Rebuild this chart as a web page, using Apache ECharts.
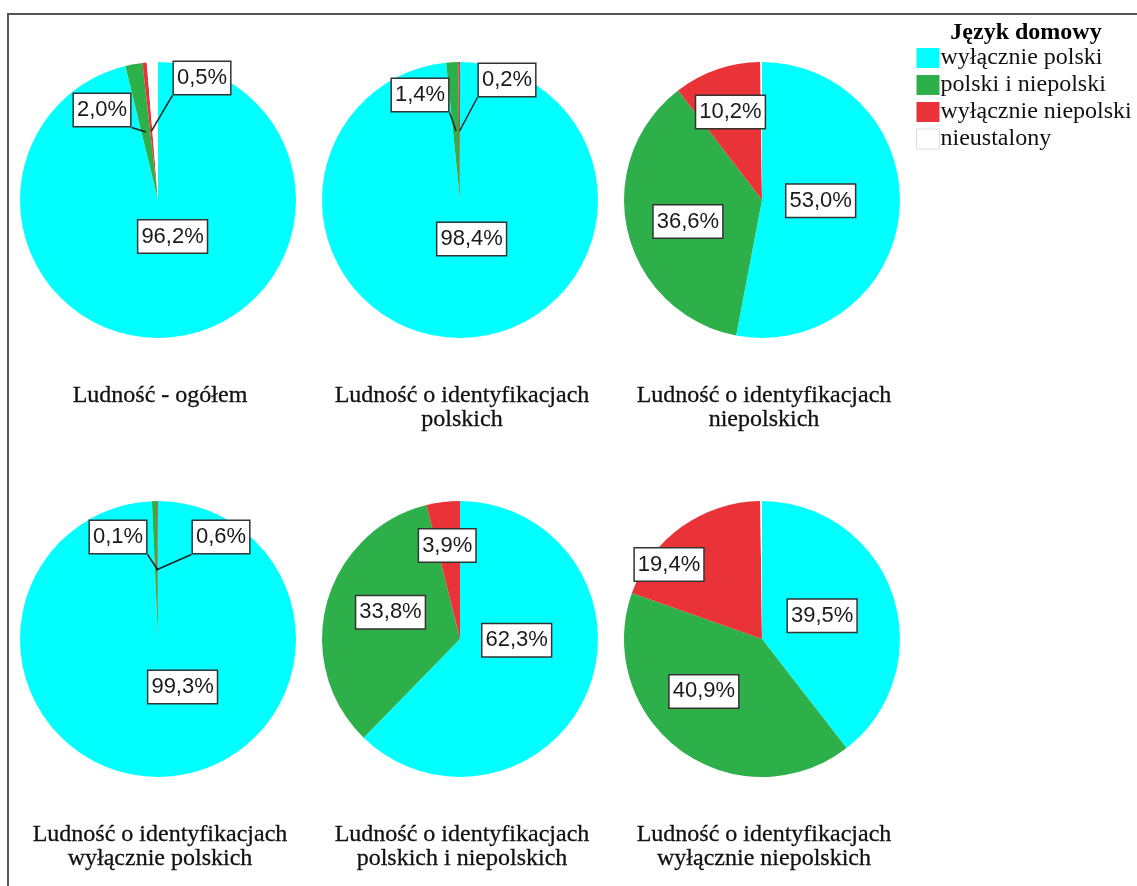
<!DOCTYPE html>
<html>
<head>
<meta charset="utf-8">
<script src="https://cdn.jsdelivr.net/npm/echarts@6/dist/echarts.min.js"></script>
<style>
  body { margin: 0; background: #fff; }
  #chart { position: absolute; left: 0; top: 0; width: 1137px; height: 886px; }
  #frame { position: absolute; left: 7px; top: 13px; right: 0; bottom: 0;
           border-left: 2px solid #555; border-top: 2px solid #555; pointer-events: none; }
</style>
</head>
<body>
<div id="chart"></div>
<div id="frame"></div>
<script>
// kategorie: język domowy
var categories = ['wyłącznie polski', 'polski i niepolski', 'wyłącznie niepolski', 'nieustalony'];
var colors = ['#00ffff', '#2db04a', '#ea3339', '#ffffff'];

// podpisy wykresów
var groups = [
    'Ludność - ogółem',
    'Ludność o identyfikacjach\npolskich',
    'Ludność o identyfikacjach\nniepolskich',
    'Ludność o identyfikacjach\nwyłącznie polskich',
    'Ludność o identyfikacjach\npolskich i niepolskich',
    'Ludność o identyfikacjach\nwyłącznie niepolskich'
];

// udziały (%) w kolejności kategorii
var ogolem        = [96.2, 2.0, 0.5, 1.3];
var polskie       = [98.4, 1.4, 0.2, 0];
var niepolskie    = [53.0, 36.6, 10.2, 0.2];
var tylkoPolskie  = [99.3, 0.6, 0.1, 0];
var polINiepol    = [62.3, 33.8, 3.9, 0];
var tylkoNiepol   = [39.5, 40.9, 19.4, 0.2];
var shares = [ogolem, polskie, niepolskie, tylkoPolskie, polINiepol, tylkoNiepol];

// przesunięcia etykiet (jak w SPSS):
// duże wycinki - przesunięcie od pozycji 'inside',
// małe wycinki (z linią) - położenie względem środka koła
var labelShift = [
    [[6, -35], [-56, -90], [44, -122], [0, 0]],
    [[8, -33], [-40, -105], [47, -120], [0, 0]],
    [[-13, -6], [-4, 5], [-8, -20], [0, 0]],
    [[23, -24], [63, -102], [-40, -102], [0, 0]],
    [[-10, -26], [0, -8], [-4, -22], [0, 0]],
    [[-8, 0], [-16, -6], [-51, -16], [0, 0]]
];

var centersX = [158, 460, 762];
var centersY = [200, 639];
var titleTop = [379, 818];
var R = 138;

var myChart = echarts.init(document.getElementById('chart'));

function fmt(v) {
    return v.toFixed(1).replace('.', ',') + '%';
}

var series = [];
var titles = [{
    text: 'Język domowy',
    left: 1021, top: 16, textAlign: 'center',
    textStyle: { fontFamily: 'Liberation Serif', fontSize: 24, fontWeight: 'bold', color: '#000' }
}];

for (var i = 0; i < shares.length; i++) {
    var col = i % 3, row = Math.floor(i / 3);
    var cx = centersX[col], cy = centersY[row];
    var data = [];
    var labelData = [];
    for (var k = 0; k < categories.length; k++) {
        var v = shares[i][k];
        var small = v < 3;
        data.push({ name: categories[k], value: v });
        labelData.push({
            name: categories[k],
            value: v,
            label: { show: v > 0 && k < 3, position: small ? 'outside' : 'inside' },
            labelLine: { show: small }
        });
    }
    // koło
    series.push({
        type: 'pie',
        center: [cx, cy],
        radius: R,
        startAngle: 90,
        clockwise: true,
        silent: true,
        label: { show: false },
        labelLine: { show: false },
        data: data
    });
    // warstwa z etykietami (przezroczyste wycinki, linie nad kołem)
    (function (idx, cx, cy) {
        series.push({
            type: 'pie',
            z: 5,
            center: [cx, cy],
            radius: R,
            startAngle: 90,
            clockwise: true,
            avoidLabelOverlap: false,
            silent: true,
            data: labelData,
            itemStyle: { color: 'rgba(0,0,0,0)', borderWidth: 0 },
            label: {
                formatter: function (p) { return fmt(p.value); },
                fontFamily: 'Liberation Sans',
                fontSize: 22,
                color: '#1a1a1a',
                backgroundColor: '#fff',
                borderColor: '#333',
                borderWidth: 1.5,
                padding: [6, 3, 4, 3]
            },
            labelLine: { show: true, lineStyle: { color: '#222', width: 1.5 } },
            labelLayout: function (params) {
                var s = labelShift[idx][params.dataIndex];
                var pts = params.labelLinePoints;
                if (!pts) {
                    return { dx: s[0], dy: s[1] };
                }
                // etykieta małego wycinka: ramka obok, linia do połowy promienia
                var lx = cx + s[0], ly = cy + s[1];
                var w = params.labelRect.width, h = params.labelRect.height;
                var p0 = pts[0];
                var mid = [cx + (p0[0] - cx) * 0.5, cy + (p0[1] - cy) * 0.5];
                var corner = [s[0] < 0 ? lx + w / 2 : lx - w / 2, ly + h / 2];
                return {
                    x: lx, y: ly, align: 'center', verticalAlign: 'middle',
                    labelLinePoints: [corner, [(corner[0] + mid[0]) / 2, (corner[1] + mid[1]) / 2], mid]
                };
            }
        });
    })(i, cx, cy);
    titles.push({
        text: groups[i],
        left: cx - 3,
        top: titleTop[row],
        textAlign: 'center',
        textStyle: {
            fontFamily: 'Liberation Serif',
            fontSize: 24,
            fontWeight: 'normal',
            lineHeight: 24,
            color: '#111',
            textBorderColor: '#111',
            textBorderWidth: 0.3
        }
    });
}

var option = {
    animation: false,
    color: colors,
    title: titles,
    legend: {
        orient: 'vertical',
        left: 911,
        top: 41,
        icon: 'rect',
        itemWidth: 23,
        itemHeight: 20,
        itemGap: 3,
        selectedMode: false,
        textStyle: { fontFamily: 'Liberation Serif', fontSize: 24, color: '#111', padding: [0, 0, 0, -4] },
        data: categories.map(function (c, k) {
            var st = { color: colors[k] };
            if (k === 3) { st.borderColor = '#ddd'; st.borderWidth = 1; }
            return { name: c, itemStyle: st };
        })
    },
    series: series
};

myChart.setOption(option);
</script>
</body>
</html>
